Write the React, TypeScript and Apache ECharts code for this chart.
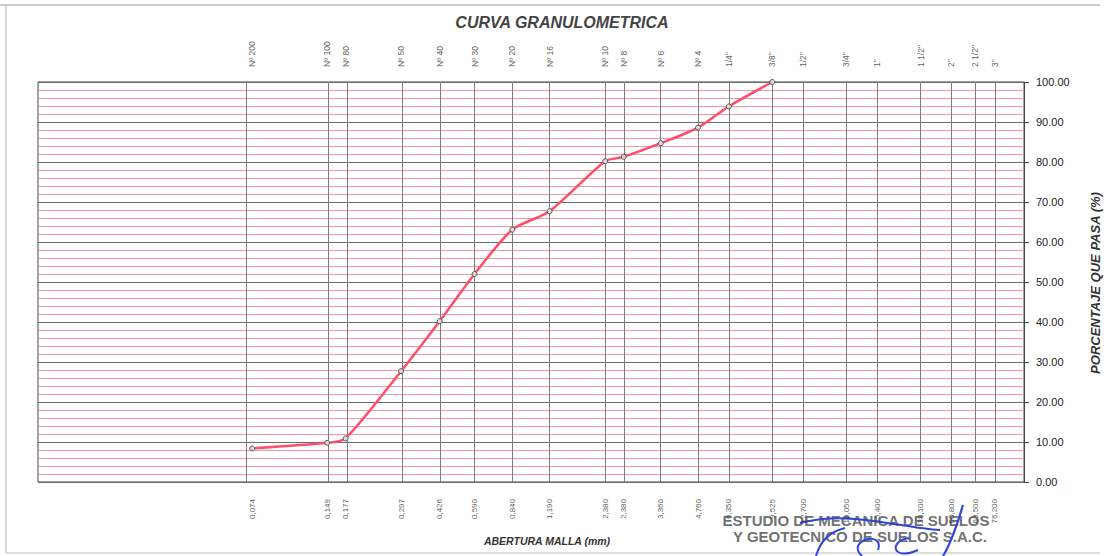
import React, { useEffect, useRef } from "react";
import * as echarts from "echarts";

const sieveSizes = [0.074, 0.149, 0.177, 0.297, 0.426, 0.59, 0.84, 1.19, 2.0, 2.38, 3.36, 4.76, 6.35, 9.525, 12.7, 19.05, 25.4, 38.1, 50.8, 63.5, 76.2];
const sieveNames = ["Nº 200", "Nº 100", "Nº 80", "Nº 50", "Nº 40", "Nº 30", "Nº 20", "Nº 16", "Nº 10", "Nº 8", "Nº 6", "Nº 4", "1/4\"", "3/8\"", "1/2\"", "3/4\"", "1\"", "1 1/2\"", "2\"", "2 1/2\"", "3\""];
const sizeLabels = ["0,074", "0,149", "0,177", "0,297", "0,426", "0,590", "0,840", "1,190", "2,380", "2,380", "3,360", "4,760", "6,350", "9,525", "12,700", "19,050", "25,400", "38,100", "50,800", "63,500", "76,200"];
const passSizes = [0.074, 0.149, 0.177, 0.297, 0.426, 0.59, 0.84, 1.19, 2.0, 2.38, 3.36, 4.76, 6.35, 9.525];
const passValues = [8.4, 9.8, 10.9, 27.7, 40.2, 52.0, 63.1, 67.7, 80.2, 81.3, 84.7, 88.6, 93.9, 100.0];
const yTicks = [0, 10, 20, 30, 40, 50, 60, 70, 80, 90, 100];

const FONT = "'Liberation Sans', Arial, sans-serif";

export default function App() {
  const ref = useRef<HTMLDivElement>(null);
  useEffect(() => {
    if (!ref.current) return;
    const chart = echarts.init(ref.current, null, { renderer: "svg" });
    const blue = "#2f45d8";
    chart.setOption({
      animation: false,
      backgroundColor: "#ffffff",
      grid: { left: 38, right: 81, top: 82, bottom: 74, show: true, borderColor: "#444", borderWidth: 1, backgroundColor: "transparent" },
      xAxis: {
        type: "log", logBase: 10, min: 0.01, max: 100,
        axisLine: { show: false }, axisTick: { show: false }, axisLabel: { show: false }, splitLine: { show: false },
      },
      yAxis: {
        type: "value", position: "right", min: yTicks[0], max: yTicks[yTicks.length - 1], interval: 10,
        axisLine: { show: true, lineStyle: { color: "#444", width: 1 } },
        axisTick: { show: true, inside: false, length: 5, lineStyle: { color: "#444" } },
        axisLabel: { margin: 12, fontFamily: FONT, fontSize: 11, color: "#222", formatter: (v: number) => v.toFixed(2) },
        splitLine: { show: true, lineStyle: { color: "#6a6a6a", width: 1 } },
        minorTick: { show: false, splitNumber: 5 },
        minorSplitLine: { show: true, lineStyle: { color: "#f097ad", width: 1 } },
      },
      series: [
        {
          type: "line",
          data: passSizes.map((s, i) => [s, passValues[i]]),
          smooth: 0.25,
          z: 5,
          lineStyle: { color: "#ff4d6a", width: 2.5 },
          symbol: "circle",
          symbolSize: 5,
          itemStyle: { color: "#d9d9d9", borderColor: "#555", borderWidth: 1 },
          markLine: {
            silent: true, symbol: "none", label: { show: false },
            lineStyle: { color: "#7a7a7a", width: 1, type: "solid" },
            data: sieveSizes.map((s) => ({ xAxis: s })),
          },
        },
        {
          type: "scatter", silent: true, clip: false, symbolSize: 0,
          data: sieveSizes.map((s, i) => ({ value: [s, 100], name: sieveNames[i] })),
          label: { show: true, position: "top", distance: 15, rotate: 90, align: "left", verticalAlign: "middle", formatter: "{b}", fontFamily: FONT, fontSize: 8.5, color: "#333" },
        },
        {
          type: "scatter", silent: true, clip: false, symbolSize: 0,
          data: sieveSizes.map((s, i) => ({ value: [s, 0], name: sizeLabels[i] })),
          label: { show: true, position: "bottom", distance: 17, rotate: 90, align: "right", verticalAlign: "middle", formatter: "{b}", fontFamily: FONT, fontSize: 8, color: "#333" },
        },
      ],
      graphic: [
        { type: "line", silent: true, shape: { x1: 0, y1: 5, x2: 1100, y2: 5 }, style: { stroke: "#999", lineWidth: 1 } },
        { type: "line", silent: true, shape: { x1: 6, y1: 5, x2: 6, y2: 553 }, style: { stroke: "#aaa", lineWidth: 1 } },
        { type: "line", silent: true, shape: { x1: 6, y1: 553, x2: 1100, y2: 553 }, style: { stroke: "#bbb", lineWidth: 1 } },
        { type: "text", x: 562, y: 22, style: { text: "CURVA GRANULOMETRICA", font: `italic bold 16px ${FONT}`, fill: "#444", textAlign: "center", textVerticalAlign: "middle" } },
        { type: "text", x: 547, y: 541, style: { text: "ABERTURA MALLA (mm)", font: `italic bold 10.5px ${FONT}`, fill: "#333", textAlign: "center", textVerticalAlign: "middle" } },
        { type: "text", x: 1095, y: 283, rotation: Math.PI / 2, style: { text: "PORCENTAJE QUE PASA (%)", font: `italic bold 13px ${FONT}`, fill: "#333", textAlign: "center", textVerticalAlign: "middle" } },
        { type: "text", x: 856, y: 520, style: { text: "ESTUDIO DE MECANICA DE SUELOS", font: `bold 15px ${FONT}`, fill: "#606060", opacity: 0.9, textAlign: "center", textVerticalAlign: "middle" } },
        { type: "text", x: 860, y: 536, style: { text: "Y GEOTECNICO DE SUELOS S.A.C.", font: `bold 15px ${FONT}`, fill: "#606060", opacity: 0.9, textAlign: "center", textVerticalAlign: "middle" } },
        { type: "bezierCurve", silent: true, shape: { x1: 800, y1: 523, cpx1: 850, cpy1: 510, cpx2: 900, cpy2: 528, x2: 940, y2: 530 }, style: { stroke: blue, lineWidth: 2, fill: "none" } },
        { type: "bezierCurve", silent: true, shape: { x1: 816, y1: 556, cpx1: 820, cpy1: 542, cpx2: 828, cpy2: 532, x2: 845, y2: 528 }, style: { stroke: blue, lineWidth: 2, fill: "none" } },
        { type: "bezierCurve", silent: true, shape: { x1: 862, y1: 556, cpx1: 845, cpy1: 540, cpx2: 885, cpy2: 530, x2: 878, y2: 550 }, style: { stroke: blue, lineWidth: 2, fill: "none" } },
        { type: "bezierCurve", silent: true, shape: { x1: 910, y1: 538, cpx1: 888, cpy1: 540, cpx2: 892, cpy2: 562, x2: 918, y2: 550 }, style: { stroke: blue, lineWidth: 2, fill: "none" } },
        { type: "bezierCurve", silent: true, shape: { x1: 963, y1: 505, cpx1: 957, cpy1: 525, cpx2: 950, cpy2: 545, x2: 943, y2: 556 }, style: { stroke: blue, lineWidth: 2.2, fill: "none" } },
      ],
    });
    return () => chart.dispose();
  }, []);
  return <div ref={ref} style={{ position: "fixed", left: 0, top: 0, width: 1105, height: 556 }} />;
}
